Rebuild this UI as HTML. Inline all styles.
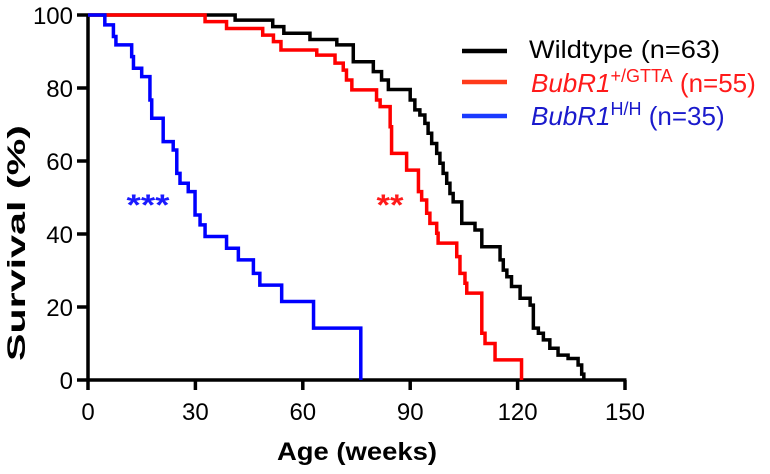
<!DOCTYPE html>
<html><head><meta charset="utf-8"><style>
html,body{margin:0;padding:0;background:#fff;}
svg{display:block;font-family:"Liberation Sans",Arial,sans-serif;}
</style></head><body>
<svg id="chart" width="770" height="474" viewBox="0 0 770 474" xmlns="http://www.w3.org/2000/svg">
<g id="axes"></g>
<g id="series"></g>
<text x="0" y="0" transform="translate(25,243) rotate(-90)" text-anchor="middle" font-size="25" font-weight="bold" textLength="236" lengthAdjust="spacingAndGlyphs">Survival (%)</text>
<text x="357" y="460" text-anchor="middle" font-size="25" font-weight="bold" textLength="160" lengthAdjust="spacingAndGlyphs">Age (weeks)</text>
<text x="148" y="215" text-anchor="middle" font-size="30" font-weight="bold" fill="#1a1aff" textLength="43" lengthAdjust="spacingAndGlyphs">***</text>
<text x="390" y="215" text-anchor="middle" font-size="30" font-weight="bold" fill="#ff1a1a" textLength="27" lengthAdjust="spacingAndGlyphs">**</text>
<g>
 <line x1="462" y1="51" x2="507" y2="51" stroke="#000" stroke-width="4.5"/>
 <text x="529" y="58" font-size="25" textLength="191" lengthAdjust="spacingAndGlyphs">Wildtype (n=63)</text>
 <line x1="462" y1="82" x2="507" y2="82" stroke="#ff3a1a" stroke-width="4.5"/>
 <text x="531" y="92" font-size="26" fill="#ff1a1a"><tspan font-style="italic">BubR1</tspan><tspan font-size="18" dy="-10">+/GTTA</tspan><tspan dy="10"> (n=55)</tspan></text>
 <line x1="462" y1="116" x2="507" y2="116" stroke="#1a3aff" stroke-width="4.5"/>
 <text x="531" y="125" font-size="26" fill="#1a1acc"><tspan font-style="italic">BubR1</tspan><tspan font-size="18" dy="-10">H/H</tspan><tspan dy="10"> (n=35)</tspan></text>
</g>
</svg>
<script>
const xTicks = [0, 30, 60, 90, 120, 150];
const yTicks = [0, 20, 40, 60, 80, 100];
const seriesNames = ['wildtype', 'gtta', 'hh'];
const wildTimes = [41.1,51.6,54.7,62,69.5,74.1,79.7,82,83.9,90,91.3,92.7,94.1,95,96,97.4,98.3,99.2,100.2,101.1,102,104.4,108.1,110,115.1,116,117,118.3,120.7,123.5,124.4,125.8,127.2,129,131.3,134.1,136.9,137.9,138.5];
const wildValues = [98.6,96.8,95,93.3,91.8,87.2,84.5,82.2,79.6,76.7,74,72.6,70.3,67.6,64.8,62.1,59.4,56.6,53.9,51.1,48.8,42.9,41.1,36.5,32.9,30.1,28.3,25.6,22.4,20.5,14.2,12.8,11,8.7,6.8,5.9,4.1,1.6,0];
const gttaTimes = [32.7,38.7,48.8,51.8,53.9,63.9,69,71.3,72.2,73.7,80.6,81.6,84.4,84.8,89,92.3,93.2,94.6,95.5,97.4,97.8,103,103.9,105.3,105.8,110,110.9,113.7,121.1];
const gttaValues = [98.2,96.3,94.5,92.7,90.4,89,86.8,84.9,82.2,79.5,76.7,74.9,69.4,62.1,57.5,51.6,49.3,45.7,42.9,40.2,37.5,33.8,29.2,26.5,23.8,12.8,10,5.5,0];
const hhTimes = [4.7,7.1,7.8,12.2,12.7,15,17.3,17.8,21,23.8,24.8,25.7,28,29.9,31.3,32.7,38.7,42,46.2,48,54.1,63,76.2];
const hhValues = [97.3,94.1,91.8,88.6,85.4,83.1,76.7,71.7,65.3,63,56.6,53.9,51.6,45.2,42.5,39.3,36.1,32.9,29.2,26,21.5,14.2,0];

const X0 = 88, X1 = 625, Y0 = 380, Y1 = 15;
function xs(w){ return X0 + (w/150)*(X1-X0); }
function ys(p){ return Y0 - (p/100)*(Y0-Y1); }
const NS = 'http://www.w3.org/2000/svg';
const axes = document.getElementById('axes');
const series = document.getElementById('series');
function mk(tag, attrs, parent){
  const e = document.createElementNS(NS, tag);
  for (const k in attrs) e.setAttribute(k, attrs[k]);
  parent.appendChild(e);
  return e;
}
const xl = mk('line', {x1:X0-1.5, y1:Y0, x2:X1+1.5, y2:Y0, stroke:'#000','stroke-width':3.5}, axes);


const yl = mk('line', {x1:X0, y1:Y1-1.5, x2:X0, y2:Y0+1.5, stroke:'#000','stroke-width':3.5}, axes);


xTicks.forEach(t => {
  const tk = mk('line', {x1:xs(t), y1:Y0, x2:xs(t), y2:Y0+10, stroke:'#000','stroke-width':3.5}, axes);
  
  
  const tx = mk('text', {x:xs(t), y:420, 'text-anchor':'middle','font-size':24}, axes);
  tx.textContent = t;
  
  
});
yTicks.forEach(t => {
  const tk = mk('line', {x1:X0-11, y1:ys(t), x2:X0, y2:ys(t), stroke:'#000','stroke-width':3.5}, axes);
  
  
  const tx = mk('text', {x:X0-15, y:ys(t)+9, 'text-anchor':'end','font-size':24}, axes);
  tx.textContent = t;
  
  
});
function stepPath(times, vals){
  let d = 'M' + xs(0) + ',' + ys(100);
  let prev = 100;
  for (let i=0;i<times.length;i++){
    d += ' L' + xs(times[i]) + ',' + ys(prev) + ' L' + xs(times[i]) + ',' + ys(vals[i]);
    prev = vals[i];
  }
  return d;
}
const specs = [[wildTimes, wildValues, '#000'], [gttaTimes, gttaValues, '#ff0000'], [hhTimes, hhValues, '#0000ff']];
specs.forEach((s, i) => {
  const p = mk('path', {d:stepPath(s[0], s[1]), fill:'none', stroke:s[2], 'stroke-width':3.5, 'stroke-linejoin':'miter'}, series);
  
  
});
</script>
</body></html>
